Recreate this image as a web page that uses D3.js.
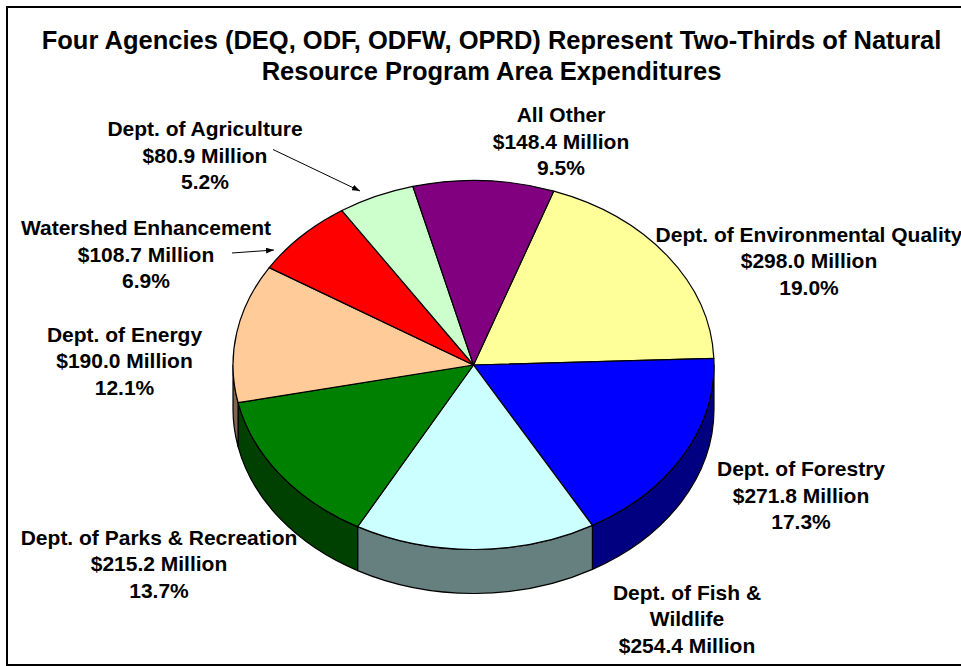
<!DOCTYPE html>
<html>
<head>
<meta charset="utf-8">
<script src="https://cdn.jsdelivr.net/npm/d3@7"></script>
<style>
  html, body { margin: 0; padding: 0; background: #fff; overflow: hidden; }
  text { font-family: "Liberation Sans", Arial, sans-serif; font-weight: bold; fill: #000; }
</style>
</head>
<body>
<script>
const categories = ["Dept. of Environmental Quality", "Dept. of Forestry", "Dept. of Fish & Wildlife",
  "Dept. of Parks & Recreation", "Dept. of Energy", "Watershed Enhancement", "Dept. of Agriculture", "All Other"];
const values = [298.0, 271.8, 254.4, 215.2, 190.0, 108.7, 80.9, 148.4];
const percents = [19.0, 17.3, null, 13.7, 12.1, 6.9, 5.2, 9.5];
const titleLines = ["Four Agencies (DEQ, ODF, ODFW, OPRD) Represent Two-Thirds of Natural",
  "Resource Program Area Expenditures"];

const topColors = ["#FFFF99", "#0000FF", "#CCFFFF", "#008000", "#FFCC99", "#FF0000", "#CCFFCC", "#800080"];
const sideColors = ["#808050", "#000080", "#668080", "#004000", "#806650", "#800000", "#668066", "#400040"];

// centre x and first baseline of each label
const labelAnchors = [[809, 241.5], [801, 476], [687, 599.5], [159, 544.5], [124.5, 341.5], [146, 235], [205, 136], [561, 122]];

const width = 961;
const height = 666;
const cx = 473.5, cy = 365, rx = 240.5, ry = 184.5, depth = 44;
const startAngle = 19.5 * Math.PI / 180;

const fmtMoney = d3.format("$.1f");
const fmtPct = d3.format(".1f");

const svg = d3.select("body").append("svg")
  .attr("width", width)
  .attr("height", height)
  .style("display", "block");

// frame runs off the right edge of the picture
svg.append("rect")
  .attr("x", 7).attr("y", 7)
  .attr("width", width + 20).attr("height", 658)
  .attr("fill", "#fff").attr("stroke", "#000").attr("stroke-width", 2);

titleLines.forEach(function (t, i) {
  svg.append("text")
    .attr("x", 491.5).attr("y", 48.5 + i * 31.5)
    .attr("text-anchor", "middle")
    .attr("font-size", 25.5)
    .text(t);
});

const pie = d3.pie().sort(null)
  .startAngle(startAngle)
  .endAngle(startAngle + 2 * Math.PI);
const slices = pie(values);

function px(a) { return cx + rx * Math.sin(a); }
function py(a) { return cy - ry * Math.cos(a); }

function rim(a0, a1) {
  const large = a1 - a0 > Math.PI ? 1 : 0;
  return "A" + rx + "," + ry + " 0 " + large + " 1 " + px(a1) + "," + py(a1);
}

// side wall: only the part of the rim between 3 o'clock and 9 o'clock shows
const sidePath = function (d) {
  const a0 = Math.max(d.startAngle, Math.PI / 2);
  const a1 = Math.min(d.endAngle, Math.PI * 1.5);
  if (a1 <= a0) return null;
  return "M" + px(a0) + "," + py(a0) + rim(a0, a1)
    + "L" + px(a1) + "," + (py(a1) + depth)
    + "A" + rx + "," + ry + " 0 0 0 " + px(a0) + "," + (py(a0) + depth) + "Z";
};

svg.append("g").selectAll("path")
  .data(slices)
  .enter()
    .append("path")
    .attr("d", sidePath)
    .attr("fill", function (d, i) { return sideColors[i]; })
    .attr("stroke", "#000")
    .attr("stroke-width", 1.2)
    .attr("stroke-linejoin", "round");

svg.append("g").selectAll("path")
  .data(slices)
  .enter()
    .append("path")
    .attr("d", function (d) {
      return "M" + cx + "," + cy + "L" + px(d.startAngle) + "," + py(d.startAngle) + rim(d.startAngle, d.endAngle) + "Z";
    })
    .attr("fill", function (d, i) { return topColors[i]; })
    .attr("stroke", "#000")
    .attr("stroke-width", 1.2)
    .attr("stroke-linejoin", "round");

// labels
const labelLines = categories.map(function (c, i) {
  const money = fmtMoney(values[i]) + " Million";
  if (percents[i] === null) return ["Dept. of Fish &", "Wildlife", money]; // percent is cut off in the original
  return [c, money, fmtPct(percents[i]) + "%"];
});

const labels = svg.append("g").selectAll("text")
  .data(labelLines)
  .enter()
    .append("text")
    .attr("text-anchor", "middle")
    .attr("font-size", 21)
    .attr("transform", function (d, i) { return "translate(" + labelAnchors[i][0] + "," + labelAnchors[i][1] + ")"; });

labels.selectAll("tspan")
  .data(function (d) { return d; })
  .enter()
    .append("tspan")
    .attr("x", 0)
    .attr("y", function (d, i) { return i * 26.5; })
    .text(function (d) { return d; });

// leader arrows
const arrows = [[[273, 149.5], [360, 191]], [[232, 253], [274, 250]]];
svg.append("defs").append("marker")
  .attr("id", "head")
  .attr("viewBox", "0 0 8 6")
  .attr("refX", 8).attr("refY", 3)
  .attr("markerWidth", 8).attr("markerHeight", 6)
  .attr("markerUnits", "userSpaceOnUse")
  .attr("orient", "auto")
  .append("path").attr("d", "M0,0L8,3L0,6Z").attr("fill", "#000");

svg.append("g").selectAll("path")
  .data(arrows)
  .enter()
    .append("path")
    .attr("d", d3.line())
    .attr("stroke", "#000")
    .attr("fill", "none")
    .attr("marker-end", "url(#head)");
</script>
</body>
</html>
